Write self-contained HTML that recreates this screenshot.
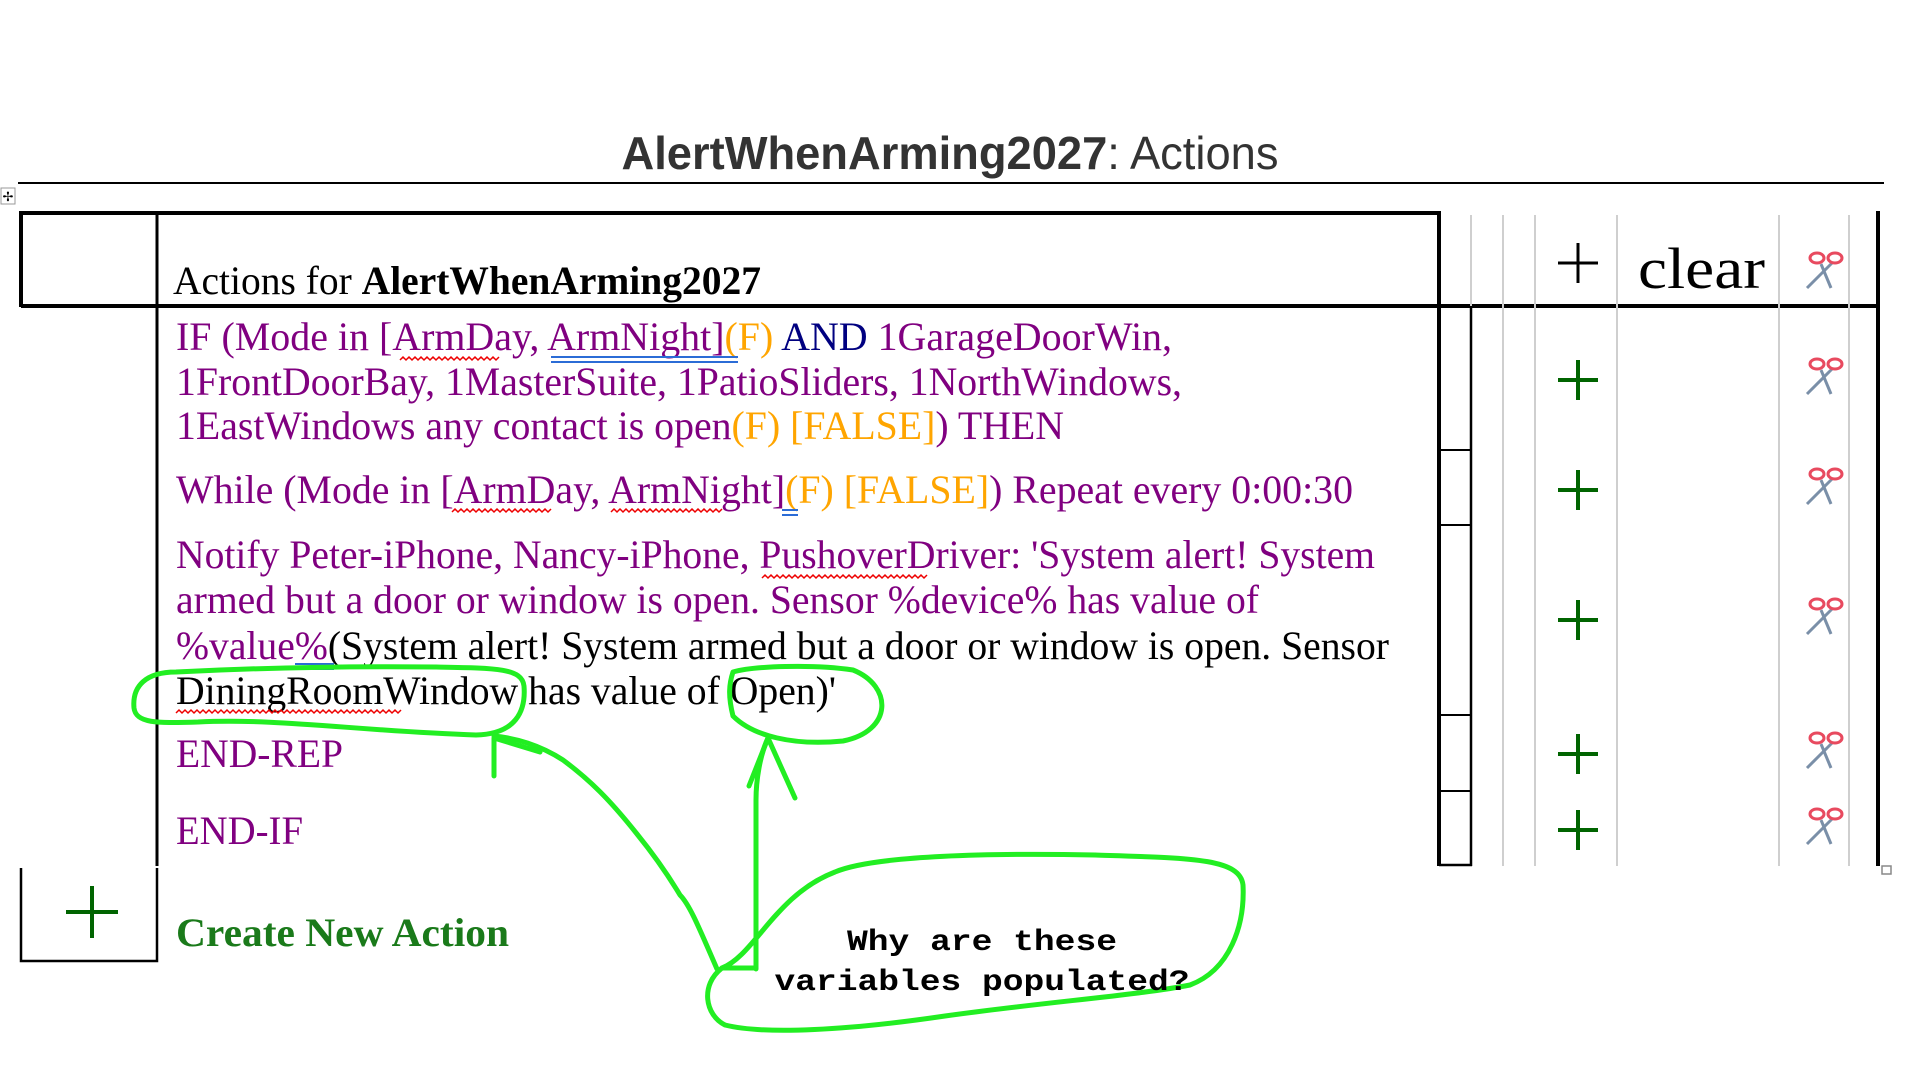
<!DOCTYPE html>
<html><head><meta charset="utf-8"><style>
html,body{margin:0;padding:0;background:#fff;width:1920px;height:1080px;overflow:hidden}
svg{display:block}
.s{font-family:"Liberation Serif",serif;font-size:40px}
.p{fill:#800080}.o{fill:#FFA500}.n{fill:#000080}.k{fill:#000}
</style></head><body>
<svg width="1920" height="1080" viewBox="0 0 1920 1080" xmlns="http://www.w3.org/2000/svg">
<defs>
<g id="sc">
  <line x1="-16" y1="18" x2="10" y2="-8" stroke="#7a8fa8" stroke-width="3"/>
  <line x1="-2" y1="-6" x2="8" y2="18" stroke="#7a8fa8" stroke-width="3"/>
  <ellipse cx="-6" cy="-12" rx="7" ry="5" fill="none" stroke="#e84a5f" stroke-width="3"/>
  <ellipse cx="12" cy="-12" rx="7" ry="5" fill="none" stroke="#e84a5f" stroke-width="3"/>
</g>
<g id="gp"><line x1="-20" y1="0" x2="20" y2="0" stroke="#006400" stroke-width="4"/><line x1="0" y1="-20" x2="0" y2="20" stroke="#006400" stroke-width="4"/></g>
</defs>

<!-- title -->
<text x="950" y="169" text-anchor="middle" font-family="Liberation Sans, sans-serif" font-size="46" fill="#333" textLength="657" lengthAdjust="spacingAndGlyphs"><tspan font-weight="bold">AlertWhenArming2027</tspan>: Actions</text>
<line x1="18" y1="183" x2="1884" y2="183" stroke="#000" stroke-width="2"/>
<rect x="1" y="188" width="14" height="16" fill="#fff" stroke="#999" stroke-width="1"/>
<text x="8" y="201" text-anchor="middle" font-size="13" font-family="DejaVu Sans">✢</text>

<!-- table lines -->
<g stroke="#000" fill="none">
  <line x1="21" y1="213" x2="1441" y2="213" stroke-width="4"/>
  <line x1="21" y1="211" x2="21" y2="307" stroke-width="4"/>
  <line x1="21" y1="306" x2="1880" y2="306" stroke-width="4"/>
  <line x1="157" y1="211" x2="157" y2="866" stroke-width="3"/>
  <line x1="1439" y1="211" x2="1439" y2="866" stroke-width="4"/>
  <line x1="1878" y1="211" x2="1878" y2="866" stroke-width="4"/>
  <line x1="1471" y1="306" x2="1471" y2="866" stroke-width="2.5"/>
  <line x1="1439" y1="865" x2="1472" y2="865" stroke-width="2.5"/>
  <line x1="1439" y1="450" x2="1471" y2="450" stroke-width="2"/>
  <line x1="1439" y1="525" x2="1471" y2="525" stroke-width="2"/>
  <line x1="1439" y1="715" x2="1471" y2="715" stroke-width="2"/>
  <line x1="1439" y1="791" x2="1471" y2="791" stroke-width="2"/>
  <polyline points="21,868 21,961 157,961 157,868" stroke-width="2.5"/>
</g>
<g stroke="#cfcfcf" stroke-width="2">
  <line x1="1471" y1="215" x2="1471" y2="306"/>
  <line x1="1503" y1="215" x2="1503" y2="866"/>
  <line x1="1535" y1="215" x2="1535" y2="866"/>
  <line x1="1617" y1="215" x2="1617" y2="866"/>
  <line x1="1779" y1="215" x2="1779" y2="866"/>
  <line x1="1849" y1="215" x2="1849" y2="866"/>
</g>
<rect x="1882" y="866" width="9" height="8" fill="#fff" stroke="#888" stroke-width="1.5"/>

<!-- header right -->
<line x1="1558" y1="263" x2="1598" y2="263" stroke="#000" stroke-width="3"/>
<line x1="1578" y1="243" x2="1578" y2="283" stroke="#000" stroke-width="3"/>
<text x="1638" y="288" font-family="Liberation Serif, serif" font-size="58" textLength="127" lengthAdjust="spacingAndGlyphs">clear</text>
<use href="#sc" x="1823" y="270"/>

<use href="#gp" x="1578" y="380"/><use href="#sc" x="1823" y="376"/>
<use href="#gp" x="1578" y="490"/><use href="#sc" x="1823" y="486"/>
<use href="#gp" x="1578" y="620"/><use href="#sc" x="1823" y="616"/>
<use href="#gp" x="1578" y="754"/><use href="#sc" x="1823" y="750"/>
<use href="#gp" x="1578" y="830"/><use href="#sc" x="1823" y="826"/>

<!-- header text -->
<text class="s k" x="173" y="294" textLength="588" lengthAdjust="spacingAndGlyphs">Actions for <tspan font-weight="bold">AlertWhenArming2027</tspan></text>

<!-- rows -->
<text class="s p" x="176" y="350" textLength="996" lengthAdjust="spacingAndGlyphs">IF (Mode in [ArmDay, ArmNight]<tspan class="o">(F)</tspan> <tspan class="n">AND</tspan> 1GarageDoorWin,</text>
<text class="s p" x="176" y="395" textLength="1006" lengthAdjust="spacingAndGlyphs">1FrontDoorBay, 1MasterSuite, 1PatioSliders, 1NorthWindows,</text>
<text class="s p" x="176" y="439" textLength="888" lengthAdjust="spacingAndGlyphs">1EastWindows any contact is open<tspan class="o">(F) [FALSE]</tspan>) THEN</text>
<text class="s p" x="176" y="503" textLength="1177" lengthAdjust="spacingAndGlyphs">While (Mode in [ArmDay, ArmNight]<tspan class="o">(F) [FALSE]</tspan>) Repeat every 0:00:30</text>
<text class="s p" x="176" y="568" textLength="1199" lengthAdjust="spacingAndGlyphs">Notify Peter-iPhone, Nancy-iPhone, PushoverDriver: 'System alert! System</text>
<text class="s p" x="176" y="613" textLength="1083" lengthAdjust="spacingAndGlyphs">armed but a door or window is open. Sensor %device% has value of</text>
<text class="s p" x="176" y="659" textLength="1213" lengthAdjust="spacingAndGlyphs">%value%<tspan class="k">(System alert! System armed but a door or window is open. Sensor</tspan></text>
<text class="s k" x="176" y="704" textLength="660" lengthAdjust="spacingAndGlyphs">DiningRoomWindow has value of Open)'</text>
<text class="s p" x="176" y="767" textLength="167" lengthAdjust="spacingAndGlyphs">END-REP</text>
<text class="s p" x="176" y="844" textLength="127" lengthAdjust="spacingAndGlyphs">END-IF</text>
<text class="s" x="176" y="946" font-weight="bold" fill="#1a7a1a" textLength="333" lengthAdjust="spacingAndGlyphs">Create New Action</text>
<line x1="66" y1="912" x2="118" y2="912" stroke="#006400" stroke-width="4"/>
<line x1="92" y1="886" x2="92" y2="938" stroke="#006400" stroke-width="4"/>

<!-- underlines -->
<g fill="none" stroke-width="1.5">
  <path d="M400 360 l3 -3 l3 3 l3 -3 l3 3 l3 -3 l3 3 l3 -3 l3 3 l3 -3 l3 3 l3 -3 l3 3 l3 -3 l3 3 l3 -3 l3 3 l3 -3 l3 3 l3 -3 l3 3 l3 -3 l3 3 l3 -3 l3 3 l3 -3 l3 3 l3 -3 l3 3 l3 -3 l3 3 l3 -3 l3 3 l3 -3" stroke="#e00"/>
  <line x1="551" y1="357" x2="738" y2="357" stroke="#2b6cd6" stroke-width="2"/>
  <line x1="551" y1="362" x2="738" y2="362" stroke="#2b6cd6" stroke-width="2"/>
  <path d="M452 512 l3 -3 l3 3 l3 -3 l3 3 l3 -3 l3 3 l3 -3 l3 3 l3 -3 l3 3 l3 -3 l3 3 l3 -3 l3 3 l3 -3 l3 3 l3 -3 l3 3 l3 -3 l3 3 l3 -3 l3 3 l3 -3 l3 3 l3 -3 l3 3 l3 -3 l3 3 l3 -3 l3 3 l3 -3 l3 3 l3 -3" stroke="#e00"/>
  <path d="M611 512 l3 -3 l3 3 l3 -3 l3 3 l3 -3 l3 3 l3 -3 l3 3 l3 -3 l3 3 l3 -3 l3 3 l3 -3 l3 3 l3 -3 l3 3 l3 -3 l3 3 l3 -3 l3 3 l3 -3 l3 3 l3 -3 l3 3 l3 -3 l3 3 l3 -3 l3 3 l3 -3 l3 3 l3 -3 l3 3 l3 -3 l3 3 l3 -3 l3 3 l3 -3" stroke="#e00"/>
  <line x1="782" y1="510" x2="798" y2="510" stroke="#2b6cd6" stroke-width="2"/>
  <line x1="782" y1="515" x2="798" y2="515" stroke="#2b6cd6" stroke-width="2"/>
  <path d="M762 578 l3 -3 l3 3 l3 -3 l3 3 l3 -3 l3 3 l3 -3 l3 3 l3 -3 l3 3 l3 -3 l3 3 l3 -3 l3 3 l3 -3 l3 3 l3 -3 l3 3 l3 -3 l3 3 l3 -3 l3 3 l3 -3 l3 3 l3 -3 l3 3 l3 -3 l3 3 l3 -3 l3 3 l3 -3 l3 3 l3 -3 l3 3 l3 -3 l3 3 l3 -3 l3 3 l3 -3 l3 3 l3 -3 l3 3 l3 -3 l3 3 l3 -3 l3 3 l3 -3 l3 3 l3 -3 l3 3 l3 -3 l3 3 l3 -3 l3 3 l3 -3" stroke="#e00"/>
  <line x1="295" y1="664" x2="334" y2="664" stroke="#2b6cd6" stroke-width="2"/>
  <line x1="295" y1="669" x2="334" y2="669" stroke="#2b6cd6" stroke-width="2"/>
  <path d="M176 713 l3 -3 l3 3 l3 -3 l3 3 l3 -3 l3 3 l3 -3 l3 3 l3 -3 l3 3 l3 -3 l3 3 l3 -3 l3 3 l3 -3 l3 3 l3 -3 l3 3 l3 -3 l3 3 l3 -3 l3 3 l3 -3 l3 3 l3 -3 l3 3 l3 -3 l3 3 l3 -3 l3 3 l3 -3 l3 3 l3 -3 l3 3 l3 -3 l3 3 l3 -3 l3 3 l3 -3 l3 3 l3 -3 l3 3 l3 -3 l3 3 l3 -3 l3 3 l3 -3 l3 3 l3 -3 l3 3 l3 -3 l3 3 l3 -3 l3 3 l3 -3 l3 3 l3 -3 l3 3 l3 -3 l3 3 l3 -3 l3 3 l3 -3 l3 3 l3 -3 l3 3 l3 -3 l3 3 l3 -3 l3 3 l3 -3 l3 3 l3 -3 l3 3 l3 -3" stroke="#e00"/>
</g>

<!-- green annotations -->
<g fill="none" stroke="#22ee22" stroke-width="5" stroke-linecap="round" stroke-linejoin="round">
  <path d="M176 672 C146 672 132 686 134 708 C136 724 158 723 198 722 C278 718 358 731 476 735 C516 734 526 711 524 686 C522 668 496 668 436 667 C346 666 256 668 176 672 Z"/>
  <path d="M733 672 C753 666 813 664 853 670 C893 686 893 731 843 741 C793 746 753 736 733 716 C728 696 729 684 733 672"/>
  <path d="M717 969 C700 930 690 905 680 895 C665 870 650 850 637 834 C610 800 590 780 563 760 C540 745 515 738 494 736"/>
  <path d="M494 776 L494 738 L540 752"/>
  <path d="M756 969 L756 800 C756 780 760 755 768 738"/>
  <path d="M749 786 L768 738 L795 798"/>
  <path d="M722 968 C700 985 705 1015 725 1025 C765 1035 850 1030 945 1016 C1045 1002 1140 995 1190 985 C1230 970 1245 925 1243 885 C1240 858 1190 858 1095 855 C995 853 875 855 835 872 C775 895 755 955 722 968 Z"/>
  <path d="M722 968 L756 968"/>
</g>
<text x="982" y="950" text-anchor="middle" font-family="Liberation Mono, monospace" font-size="30" font-weight="bold" textLength="270" lengthAdjust="spacingAndGlyphs">Why are these</text>
<text x="982" y="990" text-anchor="middle" font-family="Liberation Mono, monospace" font-size="30" font-weight="bold" textLength="415" lengthAdjust="spacingAndGlyphs">variables populated?</text>
</svg>
</body></html>
